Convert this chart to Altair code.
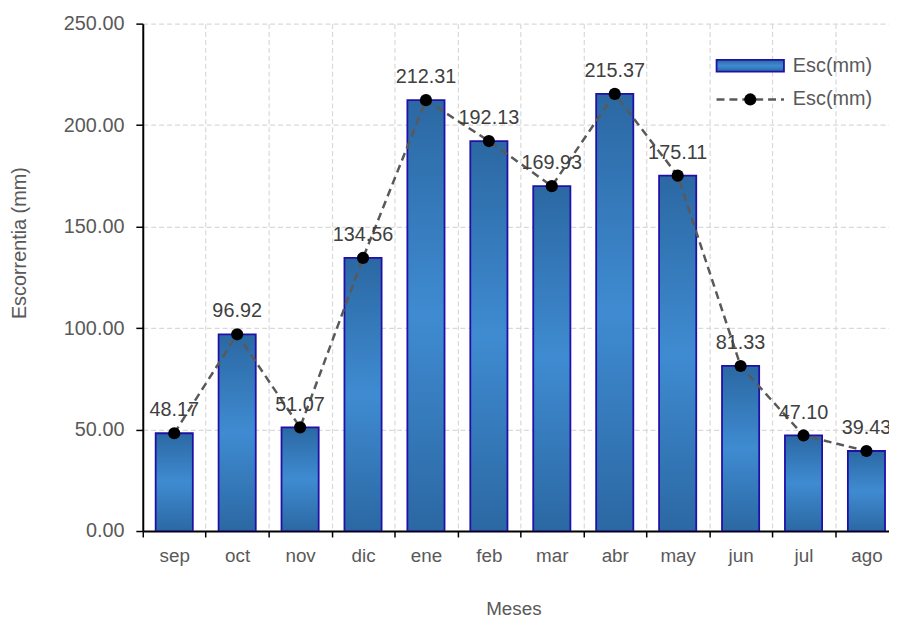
import altair as alt
import pandas as pd

meses = ["sep", "oct", "nov", "dic", "ene", "feb", "mar", "abr", "may", "jun", "jul", "ago"]
esc = [48.17, 96.92, 51.07, 134.56, 212.31, 192.13, 169.93, 215.37, 175.11, 81.33, 47.10, 39.43]
serie = "Esc(mm)"
y_ticks = [0, 50, 100, 150, 200, 250]

idx = list(range(len(meses)))
df = pd.DataFrame({
    "mes": meses,
    "pos": [i + 0.5 for i in idx],
    "esc": esc,
    "lab": [f"{v:.2f}" for v in esc],
})

FONT = "Liberation Sans"
GREY = "#595959"
STEP = 63.5            # pixel width of one month slot
VIEW_W = 753           # visible part of the plot area (rest is cut by the window)
H = 512
X_MAX = VIEW_W / STEP

grad = alt.Gradient(
    gradient="linear", x1=0, y1=0, x2=0, y2=1,
    stops=[alt.GradientStop(color="#2b68a3", offset=0),
           alt.GradientStop(color="#3f8bd1", offset=0.5),
           alt.GradientStop(color="#2b68a3", offset=1)],
)

label_expr = "[" + ",".join(f"'{m}'" for m in meses) + "][datum.value]"

x = alt.X(
    "pos:Q",
    scale=alt.Scale(domain=[0, X_MAX], nice=False, zero=False, padding=0),
    axis=alt.Axis(
        values=idx, labelExpr=label_expr, labelOffset=STEP / 2,
        labelFlush=False, labelBound=False, labelOverlap=False,
        title="Meses", titleX=374, titleY=78, titleBaseline="middle",
        titleFontSize=19, titleFontWeight="normal", titleColor=GREY,
        labelAngle=0, labelFontSize=19, labelColor=GREY, labelPadding=10,
        ticks=True, tickSize=6, tickColor="black", tickWidth=1.5,
        domainColor="black", domainWidth=2,
        grid=True, gridColor="#d9d9d9", gridDash=[5, 3], gridWidth=1.2,
    ),
)
y = alt.Y(
    "esc:Q",
    scale=alt.Scale(domain=[0, 250], nice=False, padding=0),
    axis=alt.Axis(
        title="Escorrentia (mm)", titleX=-124, titleY=221, titleAngle=270,
        titleAlign="center", titleBaseline="middle",
        titleFontSize=20, titleFontWeight="normal", titleColor=GREY,
        values=y_ticks, format=".2f", labelFontSize=20, labelColor=GREY, labelPadding=12,
        tickSize=7, tickColor="black", tickWidth=1.5,
        domainColor="black", domainWidth=2,
        grid=True, gridColor="#d9d9d9", gridDash=[5, 3], gridWidth=1.2,
    ),
)

base = alt.Chart(df).encode(x=x, y=y)

bars = base.mark_bar(fill=grad, stroke="#2010a8", strokeWidth=1.8, width=37.5, clip=True)
line = base.mark_line(color=GREY, strokeWidth=2.5, strokeDash=[8, 5], clip=True)
pts = base.mark_circle(color="black", size=150, opacity=1, clip=True)
labels = base.mark_text(dy=-23, fontSize=20, color="#404040", font=FONT, clip=True).encode(text="lab:N")

leg_df = pd.DataFrame({"t": [serie]})
leg = alt.Chart(leg_df)
leg_rect = leg.mark_rect(fill=grad, stroke="#2010a8", strokeWidth=1.8).encode(
    x=alt.value(579), x2=alt.value(647), y=alt.value(36.5), y2=alt.value(48.5))
leg_line = leg.mark_rule(color=GREY, strokeWidth=2.5, strokeDash=[8, 5]).encode(
    x=alt.value(579), x2=alt.value(647), y=alt.value(76.5))
leg_pt = leg.mark_circle(color="black", size=150, opacity=1).encode(
    x=alt.value(613), y=alt.value(76.5))
leg_t1 = leg.mark_text(align="left", baseline="middle", fontSize=20, color=GREY, font=FONT).encode(
    x=alt.value(656), y=alt.value(42.5), text="t:N")
leg_t2 = leg.mark_text(align="left", baseline="middle", fontSize=20, color=GREY, font=FONT).encode(
    x=alt.value(656), y=alt.value(76.5), text="t:N")

chart = alt.layer(bars, line, pts, labels, leg_rect, leg_line, leg_pt, leg_t1, leg_t2).properties(
    width=VIEW_W, height=H,
    autosize=alt.AutoSizeParams(type="none"),
    padding={"left": 136, "top": 13, "right": 0, "bottom": 86},
).configure(font=FONT).configure_view(stroke=None)

chart.save("out.html", embed_options={"renderer": "svg", "actions": False})
